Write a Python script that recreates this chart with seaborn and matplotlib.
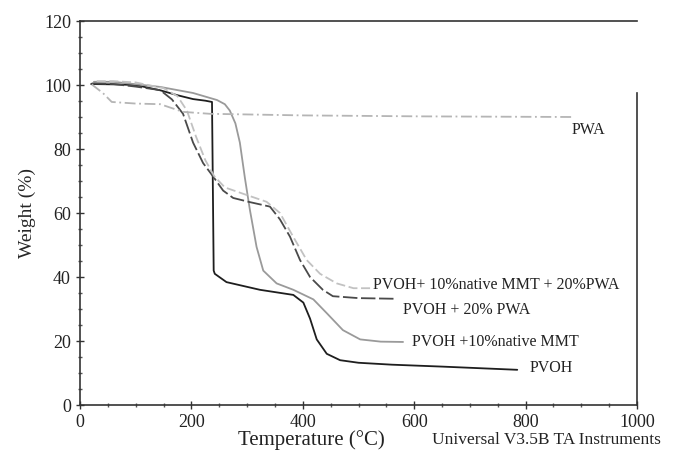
import numpy as np
import pandas as pd
import seaborn as sns
import matplotlib.pyplot as plt
from matplotlib.ticker import MultipleLocator

# === TGA curves (temperature in degC, weight in %) ===
pvoh_T = [20, 60, 100, 145, 175, 203, 225, 237, 240, 242, 263, 323, 383, 401,
          413, 425, 443, 467, 500, 560, 650, 785]
pvoh_W = [100.3, 100.2, 100, 98.3, 96.8, 95.6, 95.1, 94.7, 42, 41, 38.4, 36,
          34.4, 32, 27, 20.5, 16, 14, 13.2, 12.6, 12, 11]

mmt_T = [25, 60, 144, 203, 246, 260, 269, 279, 287, 296, 305, 317, 329, 353,
         383, 419, 443, 472, 503, 540, 580]
mmt_W = [101, 101, 99.4, 97.5, 95.3, 94, 92, 88, 82, 71, 61, 49.4, 42, 38,
         36, 33, 28.7, 23.4, 20.5, 19.8, 19.7]

pwa20_T = [21, 60, 100, 144, 165, 185, 203, 221, 239, 257, 275, 305, 341, 359,
           377, 395, 413, 436, 454, 500, 565]
pwa20_W = [100.5, 100.3, 99.5, 98.4, 95.5, 91, 82, 75.6, 71.4, 67, 64.7, 63.4,
           62, 58, 52.6, 45.3, 40, 36, 34, 33.4, 33.2]

mmtpwa_T = [30, 60, 100, 150, 175, 192, 208, 225, 241, 260, 293, 335, 359, 383,
            407, 431, 461, 491, 525]
mmtpwa_W = [101.2, 101.2, 100.8, 99, 96.5, 92, 84, 76.5, 71.5, 68, 66, 63.5,
            60, 52.5, 45.3, 41, 38, 36.5, 36.5]

pwa_T = [21, 41, 57, 100, 144, 185, 233, 400, 610, 885]
pwa_W = [100.2, 97.5, 94.7, 94.2, 94, 91.6, 91, 90.5, 90.2, 90]

labels = ["PVOH", "PVOH +10%native MMT", "PVOH + 20% PWA",
          "PVOH+ 10%native MMT + 20%PWA", "PWA"]
label_pos = [(808, 11.6), (596, 19.7), (580, 29.7), (526, 37.5), (883, 86)]

sns.set_style("ticks")
plt.rcParams['font.family'] = ['Liberation Serif', 'DejaVu Serif']

fig = plt.figure(figsize=(7, 4.63), dpi=100)
ax = fig.add_axes([80 / 700, 1 - 405 / 463, 557 / 700, 384 / 463])

curves = [
    (pvoh_T, pvoh_W, "#1e1e1e", "-"),
    (mmt_T, mmt_W, "#9a9a9a", "-"),
    (pwa20_T, pwa20_W, "#4a4a4a", (0, (8, 2))),
    (mmtpwa_T, mmtpwa_W, "#c2c2c2", (0, (5, 2))),
    (pwa_T, pwa_W, "#b5b5b5", (0, (6, 2, 1, 2))),
]
for (t, w, c, ls), name in zip(curves, labels):
    df = pd.DataFrame({"T": t, "W": w})
    sns.lineplot(data=df, x="T", y="W", sort=False, estimator=None,
                 color=c, linestyle=ls, linewidth=1.3, ax=ax)

for name, (x, y) in zip(labels, label_pos):
    ax.text(x, y, name, fontsize=11.5, va="center", ha="left", color="#222222")

ax.set_xlim(0, 1000)
ax.set_ylim(0, 120)
ax.xaxis.set_major_locator(MultipleLocator(200))
ax.xaxis.set_minor_locator(MultipleLocator(50))
ax.yaxis.set_major_locator(MultipleLocator(20))
ax.yaxis.set_minor_locator(MultipleLocator(5))
ax.tick_params(which="major", direction="inout", length=6, width=1,
               labelsize=13, colors="#333333", labelcolor="#222222")
ax.tick_params(which="minor", direction="inout", length=3, width=1,
               colors="#555555")

for s in ax.spines.values():
    s.set_visible(True)
    s.set_color("#333333")
    s.set_linewidth(1.2)
ax.spines["right"].set_bounds(0, 97.5)

ax.set_xlabel("")
ax.set_ylabel("Weight (%)", fontsize=14, labelpad=6)

fig.text(311 / 700, 1 - 440 / 463, "Temperature (\u00b0C)", fontsize=15,
         ha="center", va="center", color="#222222")
fig.text(432 / 700, 1 - 440 / 463, "Universal V3.5B TA Instruments",
         fontsize=12.5, ha="left", va="center", color="#222222")

fig.savefig("out.png", dpi=100)
